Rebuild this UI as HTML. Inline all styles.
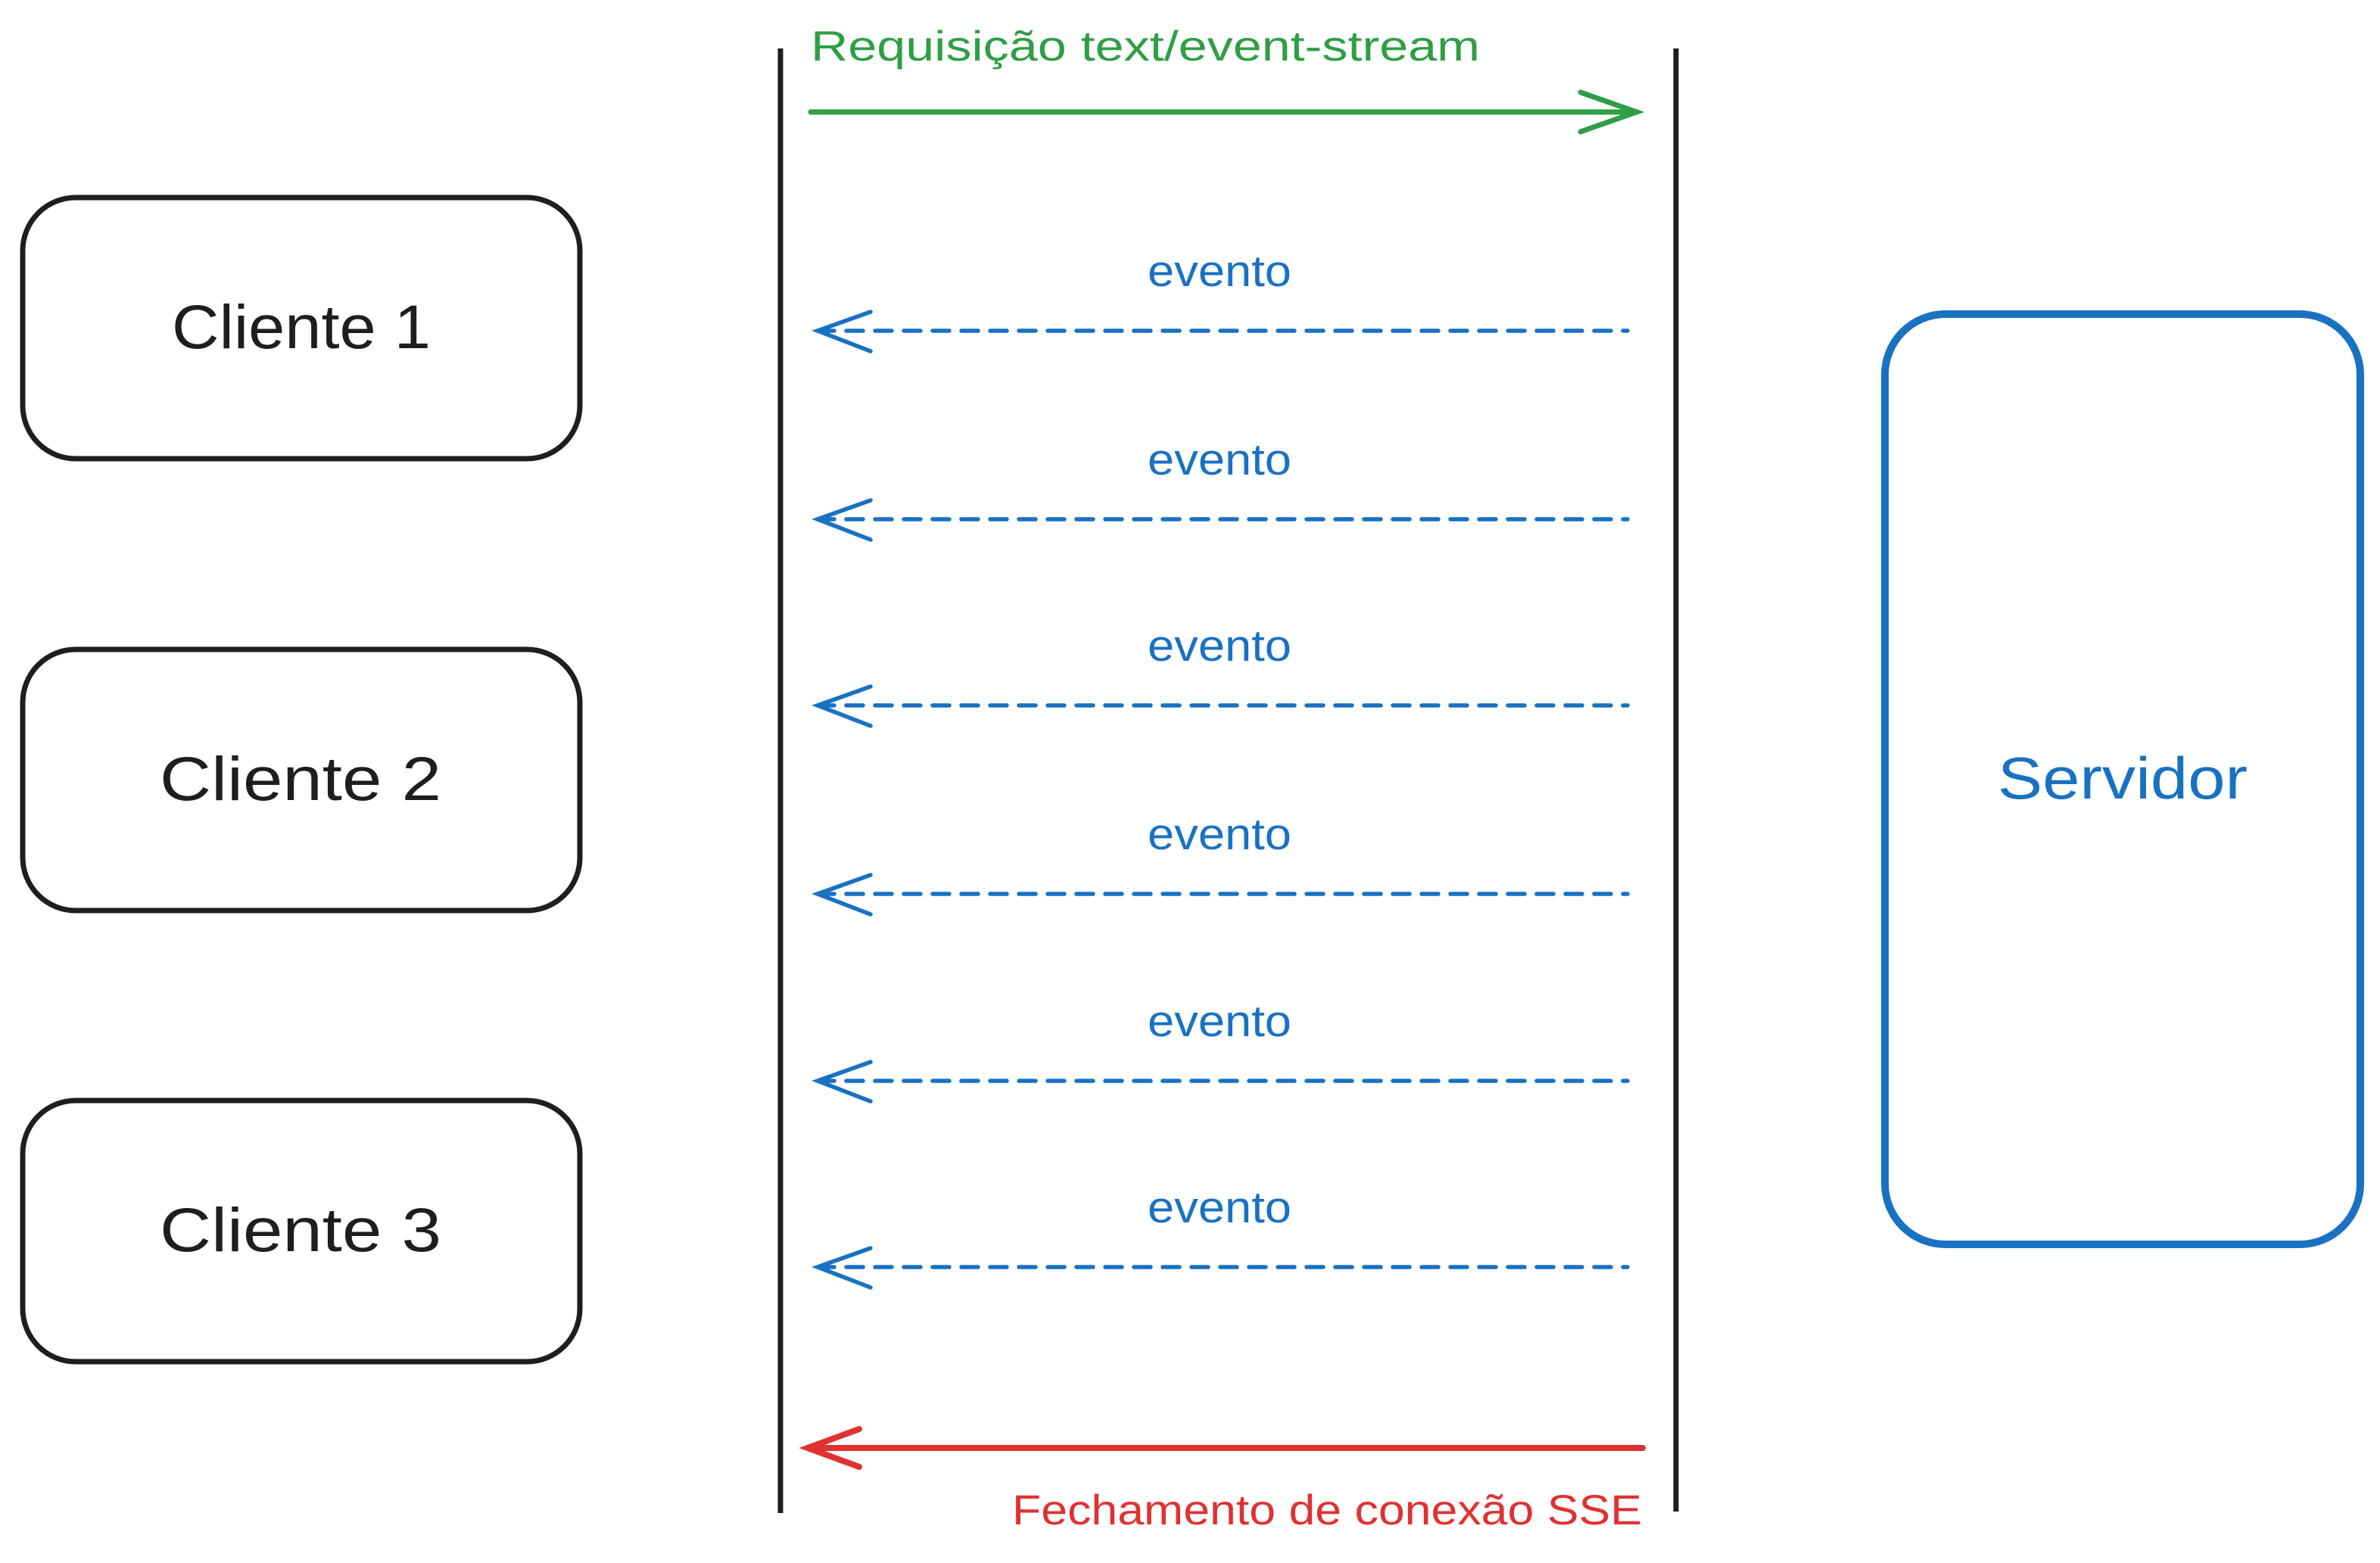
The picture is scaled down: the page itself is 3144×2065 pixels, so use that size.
<!DOCTYPE html>
<html><head><meta charset="utf-8"><style>html,body{margin:0;padding:0;background:#fff;}svg{display:block}</style></head>
<body>
<svg width="3144" height="2065" viewBox="0 0 3144 2065" xmlns="http://www.w3.org/2000/svg" font-family="Liberation Sans, sans-serif">
<rect width="3144" height="2065" fill="#fff"/>
<g fill="none" stroke="#1e1e1e" stroke-width="7">
<rect x="30" y="261" width="736" height="345" rx="70"/>
<rect x="30" y="858" width="736" height="345" rx="70"/>
<rect x="30" y="1454" width="736" height="345" rx="70"/>
<line x1="1031" y1="64" x2="1031" y2="1999"/>
<line x1="2214" y1="64" x2="2214" y2="1997"/>
</g>
<rect x="2490" y="415" width="628" height="1229" rx="80" fill="none" stroke="#1971c2" stroke-width="10"/>
<g font-size="82" fill="#1e1e1e">
<text x="227" y="460" textLength="342" lengthAdjust="spacingAndGlyphs">Cliente 1</text>
<text x="211" y="1057" textLength="372" lengthAdjust="spacingAndGlyphs">Cliente 2</text>
<text x="211" y="1653" textLength="372" lengthAdjust="spacingAndGlyphs">Cliente 3</text>
</g>
<text x="2639" y="1055" font-size="78" fill="#1971c2" textLength="330" lengthAdjust="spacingAndGlyphs">Servidor</text>
<g stroke="#2f9e44" stroke-width="7" fill="none" stroke-linecap="round">
<line x1="1071" y1="148" x2="2162" y2="148"/>
<polyline points="2088,122 2162,148 2088,174"/>
</g>
<text x="1071" y="80" font-size="56" fill="#2f9e44" textLength="884" lengthAdjust="spacingAndGlyphs">Requisição text/event-stream</text>
<g stroke="#1971c2" stroke-width="5.5" fill="none" stroke-linecap="round">
<g id="a"><line x1="1080" y1="437" x2="2150" y2="437" stroke-dasharray="22 16"/><polyline points="1150,412 1080,437 1150,464"/></g>
<use href="#a" y="249"/><use href="#a" y="495"/><use href="#a" y="744"/><use href="#a" y="991"/><use href="#a" y="1237"/>
</g>
<g font-size="58" fill="#1971c2">
<text x="1516" y="378" textLength="190" lengthAdjust="spacingAndGlyphs">evento</text>
<text x="1516" y="627" textLength="190" lengthAdjust="spacingAndGlyphs">evento</text>
<text x="1516" y="873" textLength="190" lengthAdjust="spacingAndGlyphs">evento</text>
<text x="1516" y="1122" textLength="190" lengthAdjust="spacingAndGlyphs">evento</text>
<text x="1516" y="1369" textLength="190" lengthAdjust="spacingAndGlyphs">evento</text>
<text x="1516" y="1615" textLength="190" lengthAdjust="spacingAndGlyphs">evento</text>
</g>
<g stroke="#e03131" stroke-width="8" fill="none" stroke-linecap="round">
<line x1="1067" y1="1913" x2="2170" y2="1913"/>
<polyline points="1135,1888 1067,1913 1135,1938"/>
</g>
<text x="1337" y="2014" font-size="56" fill="#e03131" textLength="832" lengthAdjust="spacingAndGlyphs">Fechamento de conexão SSE</text>
</svg>
</body></html>
